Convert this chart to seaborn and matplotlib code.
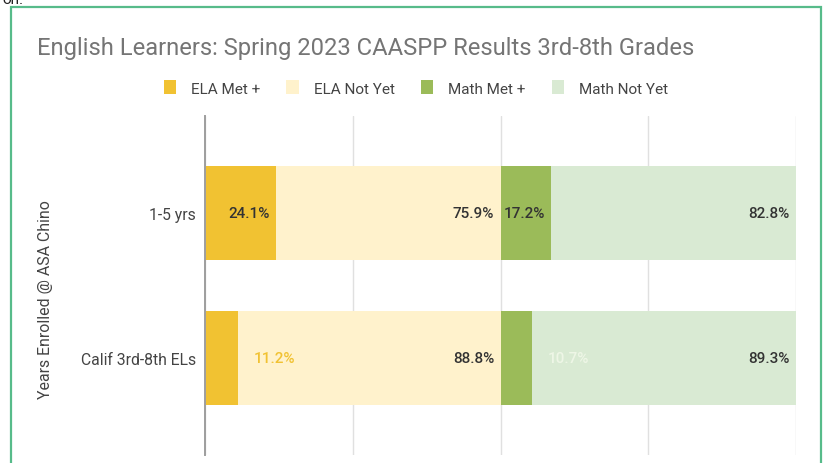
import matplotlib
matplotlib.use("Agg")
import matplotlib.pyplot as plt
import seaborn as sns
import pandas as pd
from matplotlib.patches import Patch, Rectangle
from matplotlib.transforms import offset_copy

# ---- data ----
categories = ["1-5 yrs", "Calif 3rd-8th ELs"]
series_names = ["ELA Met +", "ELA Not Yet", "Math Met +", "Math Not Yet"]
ela_met = [24.1, 11.2]
ela_not_yet = [75.9, 88.8]
math_met = [17.2, 10.7]
math_not_yet = [82.8, 89.3]
title = "English Learners: Spring 2023 CAASPP Results 3rd-8th Grades"
y_title = "Years Enrolled @ ASA Chino"

colors = ["#f1c232", "#fff2cc", "#9bbb59", "#d9ead3"]
small_label_colors = ["#f1c232", "#fff2cc", "#eef6e6", "#d9ead3"]

sns.set_theme(style="white")
plt.rcParams["font.family"] = ["Roboto", "DejaVu Sans"]

series = [ela_met, ela_not_yet, math_met, math_not_yet]
rows = []
for i, cat in enumerate(categories):
    cum = 0.0
    for name, vals in zip(series_names, series):
        start = cum
        cum += vals[i]
        rows.append({"category": cat, "series": name, "value": vals[i],
                     "start": start, "end": cum})
df = pd.DataFrame(rows)

fig = plt.figure(figsize=(8.25, 4.64), dpi=100)
ax = fig.add_axes([205 / 825, 1 - 456 / 464, (796 - 205) / 825, (456 - 117) / 464])

# stacked bars: draw cumulative ends from largest to smallest
for name, col in reversed(list(zip(series_names, colors))):
    sub = df[df["series"] == name]
    sns.barplot(data=sub, x="end", y="category", color=col, orient="h",
                width=0.65, ax=ax, saturation=1, order=categories, linewidth=0)

ax.set_xlim(0, 200)
ax.set_ylim(1.67, -0.67)
ax.set_xticks([0, 50, 100, 150, 200])
ax.set_xticklabels([])
ax.grid(axis="x", color="#e0e0e0", linewidth=1)
ax.set_axisbelow(True)
for s in ["top", "right", "bottom"]:
    ax.spines[s].set_visible(False)
ax.spines["left"].set_color("#9e9e9e")
ax.spines["left"].set_linewidth(1.4)
ax.spines["left"].set_zorder(5)
ax.tick_params(axis="y", length=0, pad=6.5, labelsize=11.3, labelcolor="#444444")
ax.tick_params(axis="x", length=0)
ax.set_xlabel("")
ax.set_ylabel("")

# value labels
inside_tr = offset_copy(ax.transData, fig=fig, x=-4.5, y=0, units="points")
outside_tr = offset_copy(ax.transData, fig=fig, x=11, y=0, units="points")
for _, r in df.iterrows():
    yi = categories.index(r["category"])
    si = series_names.index(r["series"])
    txt = f"{r['value']:.1f}%"
    if r["value"] >= 15:
        ax.text(r["end"], yi, txt, transform=inside_tr, ha="right", va="center",
                fontsize=11, color="#333333", fontweight="medium")
    else:
        ax.text(r["end"], yi, txt, transform=outside_tr, ha="left", va="center",
                fontsize=11, color=small_label_colors[si], fontweight="medium")

# title, axis title
fig.text(37 / 825, 1 - 48 / 464, title, ha="left", va="center",
         fontsize=17.1, color="#757575")
fig.text(46 / 825, 1 - 300 / 464, y_title, rotation=90, ha="center", va="center",
         fontsize=11.4, color="#444444")

# legend
handles = [Patch(facecolor=c, edgecolor="none") for c in colors]
fig.legend(handles, series_names, loc="center", bbox_to_anchor=(416 / 825, 1 - 89 / 464),
           ncol=4, frameon=False, fontsize=11, handlelength=0.8, handleheight=1.0,
           handletextpad=1.0, columnspacing=1.7, labelcolor="#444444")

# green frame and cropped text from the screenshot
fig.patches.append(Rectangle((10.5 / 825, -0.05), (821 - 10.5) / 825, 1.05 - 8 / 464,
                             transform=fig.transFigure, fill=False,
                             edgecolor="#57bb8a", linewidth=1.6))
fig.text(2 / 825, 1.0, "on.", ha="left", va="center", fontsize=11, color="#222222")

fig.savefig("out.png", dpi=100)
